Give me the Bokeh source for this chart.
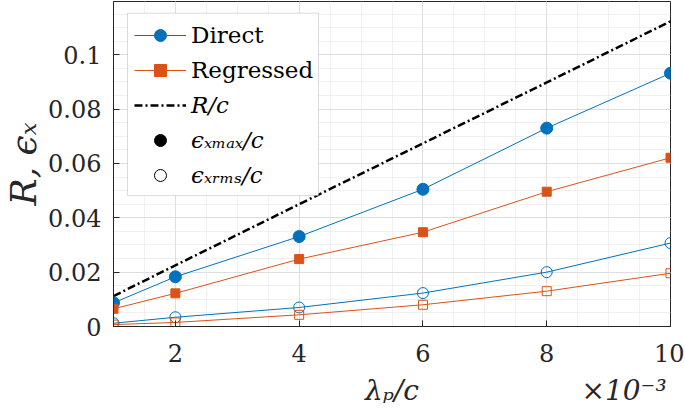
import numpy as np
from bokeh.plotting import figure
from bokeh.models import (FixedTicker, Legend, LegendItem, LinearAxis,
                          BoxAnnotation, Range1d)
from bokeh.embed import file_html
from bokeh.resources import INLINE

# ---- data (lambda_p / c in units of 1e-3) ----
lam = [1, 2, 4, 6, 8, 10]
direct_max = [0.0087, 0.0183, 0.0331, 0.0505, 0.0730, 0.0932]
regressed_max = [0.0065, 0.0122, 0.0248, 0.0347, 0.0496, 0.0621]
direct_rms = [0.0012, 0.0034, 0.0070, 0.0123, 0.0200, 0.0307]
regressed_rms = [0.0007, 0.0015, 0.0043, 0.0080, 0.0130, 0.0196]
r_over_c = [0.0112, 0.0225, 0.0450, 0.0674, 0.0898, 0.1123]

x_ticks = [2, 4, 6, 8, 10]
x_tick_labels = ["2", "4", "6", "8", "10"]
y_ticks = [0.0, 0.02, 0.04, 0.06, 0.08, 0.1]
y_tick_labels = ["0", "0.02", "0.04", "0.06", "0.08", "0.1"]
x_title = "λₚ/c"
x_exponent = "×10⁻³"

BLUE = "#0072BD"
ORANGE = "#D95319"
AX = "#262626"
FONT = "DejaVu Serif"

p = figure(frame_width=557, frame_height=325,
           x_range=Range1d(1, 10), y_range=Range1d(0, 0.1196),
           output_backend="svg", toolbar_location=None,
           background_fill_color="white", border_fill_color="white")
p.min_border = 0
p.min_border_left = 113
p.min_border_right = 14
p.min_border_top = 1
p.min_border_bottom = 89
p.outline_line_color = AX
p.outline_line_width = 1

xt = FixedTicker(ticks=x_ticks, minor_ticks=list(np.arange(1, 10.01, 0.5)))
yt = FixedTicker(ticks=y_ticks, minor_ticks=list(np.arange(0, 0.1196, 0.005)))

for ax in (p.xaxis[0], p.yaxis[0]):
    ax.major_tick_in = 6
    ax.major_tick_out = 0
    ax.minor_tick_in = 0
    ax.minor_tick_out = 0
    ax.axis_line_color = AX
    ax.major_tick_line_color = AX
    ax.major_label_text_color = AX
    ax.major_label_text_font = FONT
    ax.major_label_text_font_size = "24px"
    ax.axis_label_text_font = FONT
    ax.axis_label_text_font_style = "italic"
    ax.axis_label_text_color = AX

p.xaxis[0].ticker = xt
p.yaxis[0].ticker = yt
p.xaxis[0].major_label_overrides = dict(zip(x_ticks, x_tick_labels))
p.yaxis[0].major_label_overrides = dict(zip(y_ticks, y_tick_labels))
p.xaxis[0].major_label_standoff = 17
p.yaxis[0].major_label_standoff = 12
p.yaxis[0].axis_label = "R, ϵₓ"
p.yaxis[0].axis_label_text_font_size = "36px"
p.yaxis[0].axis_label_standoff = 1

# second row under the x tick labels: axis title (centred) and exponent (right)
title_pos = [5.5, 9.25]
ax2 = LinearAxis(ticker=FixedTicker(ticks=title_pos, minor_ticks=[]),
                 major_label_overrides=dict(zip(title_pos, [x_title, x_exponent])),
                 axis_line_color=None, major_tick_line_color=None,
                 minor_tick_line_color=None, major_tick_in=0, major_tick_out=0,
                 major_label_standoff=9,
                 major_label_text_font=FONT, major_label_text_font_style="italic",
                 major_label_text_font_size="28px", major_label_text_color=AX)
p.add_layout(ax2, "below")

# grids
p.xgrid.ticker = xt
p.ygrid.ticker = yt
for g in (p.xgrid[0], p.ygrid[0]):
    g.grid_line_color = "#dedede"
    g.grid_line_width = 1
    g.minor_grid_line_color = "#e3e3e3"
    g.minor_grid_line_dash = "1 1"
    g.minor_grid_line_width = 1

# data
r_line = p.line(lam, r_over_c, line_color="black", line_width=2.5, line_dash="8 3 2 3")

dm_line = p.line(lam, direct_max, line_color=BLUE, line_width=1)
dm_pts = p.scatter(lam, direct_max, marker="circle", size=12, fill_color=BLUE, line_color=BLUE)
rm_line = p.line(lam, regressed_max, line_color=ORANGE, line_width=1)
rm_pts = p.scatter(lam, regressed_max, marker="square", size=9, fill_color=ORANGE, line_color=ORANGE)

p.line(lam, direct_rms, line_color=BLUE, line_width=1)
p.scatter(lam, direct_rms, marker="circle", size=11, fill_color=None, line_color=BLUE, line_width=1)
p.line(lam, regressed_rms, line_color=ORANGE, line_width=1)
p.scatter(lam, regressed_rms, marker="square", size=9, fill_color=None, line_color=ORANGE, line_width=1)

# legend-only glyphs (no visible position on the plot)
leg_fill = p.scatter(x=[np.nan], y=[np.nan], marker="circle", size=10,
                     fill_color="black", line_color="black")
leg_open = p.scatter(x=[np.nan], y=[np.nan], marker="circle", size=10,
                     fill_color=None, line_color="black")

# legend box
box = BoxAnnotation(left=1.226, right=4.312, top=0.1153, bottom=0.0482,
                    fill_color="white", fill_alpha=1.0, line_color="#8c8c8c", line_width=1)
p.add_layout(box)

def make_legend(items, loc, italic):
    return Legend(items=items, location=loc, orientation="vertical",
                  glyph_width=52, glyph_height=30, label_height=30, label_standoff=5,
                  padding=7, spacing=5, margin=0,
                  background_fill_alpha=0, border_line_alpha=0,
                  label_text_font=FONT, label_text_font_size="23px",
                  label_text_color="black",
                  label_text_font_style="italic" if italic else "normal")

legA = make_legend([LegendItem(label="Direct", renderers=[dm_line, dm_pts]),
                    LegendItem(label="Regressed", renderers=[rm_line, rm_pts])],
                   (14, 234), False)
legB = make_legend([LegendItem(label="R/c", renderers=[r_line]),
                    LegendItem(label="ϵₓₘₐₓ/c", renderers=[leg_fill]),
                    LegendItem(label="ϵₓᵣₘₛ/c", renderers=[leg_open])],
                   (14, 129), True)
p.add_layout(legA)
p.add_layout(legB)

open("out.html", "w").write(file_html(p, INLINE))
